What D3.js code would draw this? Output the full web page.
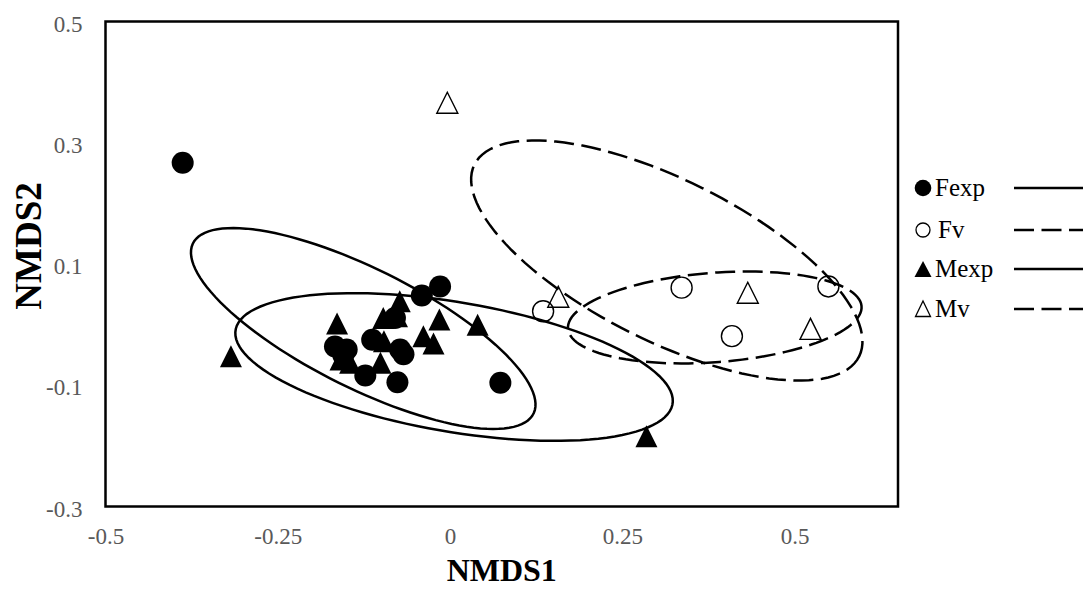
<!DOCTYPE html>
<html>
<head>
<meta charset="utf-8">
<script src="https://cdn.jsdelivr.net/npm/d3@7/dist/d3.min.js"></script>
<style>
    body { margin: 0; background: #fff; }
    svg { display: block; font-family: "Liberation Serif", "Times New Roman", serif; }
</style>
</head>
<body>
<svg id="chart" width="1090" height="590"></svg>
<script>
// NMDS scores
const fexpX = [-0.388, -0.0145, -0.041, -0.167, -0.150, -0.155, -0.113, -0.0725, -0.0676, -0.123, -0.0764, 0.073, -0.080]
const fexpY = [0.267, 0.063, 0.048, -0.036, -0.041, -0.050, -0.025, -0.041, -0.049, -0.084, -0.095, -0.096, 0.011]

const fvX = [0.135, 0.336, 0.409, 0.549]
const fvY = [0.022, 0.061, -0.019, 0.063]

const mexpX = [-0.318, -0.164, -0.073, -0.097, -0.077, -0.0155, 0.040, -0.0387, -0.024, -0.096, -0.101, -0.159, -0.145, 0.285]
const mexpY = [-0.052, 0.002, 0.0386, 0.011, 0.0137, 0.0085, 0.000, -0.019, -0.031, -0.0275, -0.063, -0.0575, -0.063, -0.184]

const mvX = [-0.004, 0.157, 0.432, 0.523]
const mvY = [0.366, 0.046, 0.0525, -0.007]

// ellipses: centre, semi axes and angle (degrees), in NMDS units
const ellipseGroups = ['Fexp', 'Mexp', 'Mv', 'Fv']
const ellipseCx = [-0.126, 0.0058, 0.3145, 0.3841]
const ellipseCy = [-0.0064, -0.0699, 0.1058, 0.0118]
const ellipseA = [0.2844, 0.3229, 0.3212, 0.2138]
const ellipseB = [0.0953, 0.1065, 0.1292, 0.0737]
const ellipseAngle = [-30.4, -11.2, -30.7, 5.1]

const xTicks = [-0.5, -0.25, 0, 0.25, 0.5]
const xTickLabels = ['-0.5', '-0.25', '0', '0.25', '0.5']
const yTicks = [-0.3, -0.1, 0.1, 0.3, 0.5]
const yTickLabels = ['-0.3', '-0.1', '0.1', '0.3', '0.5']

const legendNames = ['Fexp', 'Fv', 'Mexp', 'Mv']

const svg = d3.select('#chart')
const plot = { left: 105.5, right: 898, top: 21.5, bottom: 506.5 }
const serif = '"Liberation Serif", "Times New Roman", serif'

const x = d3.scaleLinear().domain([-0.5, 0.65]).range([plot.left, plot.right])
const y = d3.scaleLinear().domain([-0.3, 0.5]).range([plot.bottom, plot.top])

const dash = '20,7.5'
const isDashed = g => g === 'Fv' || g === 'Mv'

// axes (labels only, no ticks)
const styleAxis = g => {
    g.attr('font-family', serif).attr('font-size', 23)
    g.select('.domain').remove()
    g.selectAll('text').attr('fill', '#595959')
}

svg.append('g')
    .attr('transform', `translate(0,${plot.bottom})`)
    .call(d3.axisBottom(x).tickValues(xTicks).tickSize(0).tickPadding(21)
        .tickFormat((d, i) => xTickLabels[i]))
    .call(styleAxis)

svg.append('g')
    .attr('transform', `translate(${plot.left},0)`)
    .call(d3.axisLeft(y).tickValues(yTicks).tickSize(0).tickPadding(23)
        .tickFormat((d, i) => yTickLabels[i]))
    .call(styleAxis)
    .selectAll('text').attr('dy', '0.42em')

// ellipses
const ellipseLine = d3.line().x(d => x(d[0])).y(d => y(d[1])).curve(d3.curveLinearClosed)
const ellipsePoints = i => {
    const phi = ellipseAngle[i] * Math.PI / 180
    return d3.range(0, 360, 3).map(deg => {
        const t = deg * Math.PI / 180
        const u = ellipseA[i] * Math.cos(t)
        const v = ellipseB[i] * Math.sin(t)
        return [ellipseCx[i] + u * Math.cos(phi) - v * Math.sin(phi),
                ellipseCy[i] + u * Math.sin(phi) + v * Math.cos(phi)]
    })
}

svg.append('g')
    .selectAll('path')
    .data(ellipseGroups)
    .join('path')
    .attr('d', (g, i) => ellipseLine(ellipsePoints(i)))
    .attr('fill', 'none')
    .attr('stroke', '#000')
    .attr('stroke-width', 2.5)
    .attr('stroke-dasharray', g => isDashed(g) ? dash : null)

// markers
const tri = s => `M0,${-s}L${s},${s}L${-s},${s}Z`
const pts = (xs, ys) => xs.map((v, i) => [v, ys[i]])

svg.append('g').selectAll('circle')
    .data(pts(fexpX, fexpY)).join('circle')
    .attr('cx', d => x(d[0])).attr('cy', d => y(d[1])).attr('r', 11)
    .attr('fill', '#000')

svg.append('g').selectAll('path')
    .data(pts(mexpX, mexpY)).join('path')
    .attr('transform', d => `translate(${x(d[0])},${y(d[1])})`)
    .attr('d', tri(11))
    .attr('fill', '#000')

svg.append('g').selectAll('circle')
    .data(pts(fvX, fvY)).join('circle')
    .attr('cx', d => x(d[0])).attr('cy', d => y(d[1])).attr('r', 10.5)
    .attr('fill', 'none').attr('stroke', '#000').attr('stroke-width', 1.4)

svg.append('g').selectAll('path')
    .data(pts(mvX, mvY)).join('path')
    .attr('transform', d => `translate(${x(d[0])},${y(d[1])})`)
    .attr('d', tri(10.5))
    .attr('fill', 'none').attr('stroke', '#000').attr('stroke-width', 1.4)

// plot frame
svg.append('rect')
    .attr('x', plot.left).attr('y', plot.top)
    .attr('width', plot.right - plot.left).attr('height', plot.bottom - plot.top)
    .attr('fill', 'none').attr('stroke', '#000').attr('stroke-width', 2.5)

// axis titles
svg.append('text')
    .attr('x', (plot.left + plot.right) / 2).attr('y', 581)
    .attr('text-anchor', 'middle')
    .attr('font-size', 32).attr('font-weight', 'bold')
    .text('NMDS1')

svg.append('text')
    .attr('transform', 'translate(41,246) rotate(-90)')
    .attr('text-anchor', 'middle')
    .attr('font-size', 37).attr('font-weight', 'bold')
    .text('NMDS2')

// legend
const legend = svg.append('g').attr('transform', 'translate(923,0)')
const rowY = [188, 230, 269, 309]

legend.selectAll('g')
    .data(legendNames)
    .join('g')
    .attr('transform', (d, i) => `translate(0,${rowY[i]})`)
    .each(function (name) {
        const row = d3.select(this)
        if (name === 'Fexp') row.append('circle').attr('r', 8.3).attr('fill', '#000')
        if (name === 'Fv') row.append('circle').attr('r', 7).attr('fill', 'none').attr('stroke', '#000').attr('stroke-width', 1.3)
        if (name === 'Mexp') row.append('path').attr('d', 'M0,-8L8.5,8L-8.5,8Z').attr('fill', '#000')
        if (name === 'Mv') row.append('path').attr('d', 'M0,-8L7.5,7.5L-7.5,7.5Z').attr('fill', 'none').attr('stroke', '#000').attr('stroke-width', 1.3)
        row.append('text')
            .attr('x', name === 'Fv' ? 15 : 12).attr('y', 8)
            .attr('font-size', 25)
            .text(name)
        row.append('line')
            .attr('x1', 91).attr('x2', 160)
            .attr('stroke', '#000').attr('stroke-width', 2.5)
            .attr('stroke-dasharray', isDashed(name) ? dash : null)
    })
</script>
</body>
</html>
